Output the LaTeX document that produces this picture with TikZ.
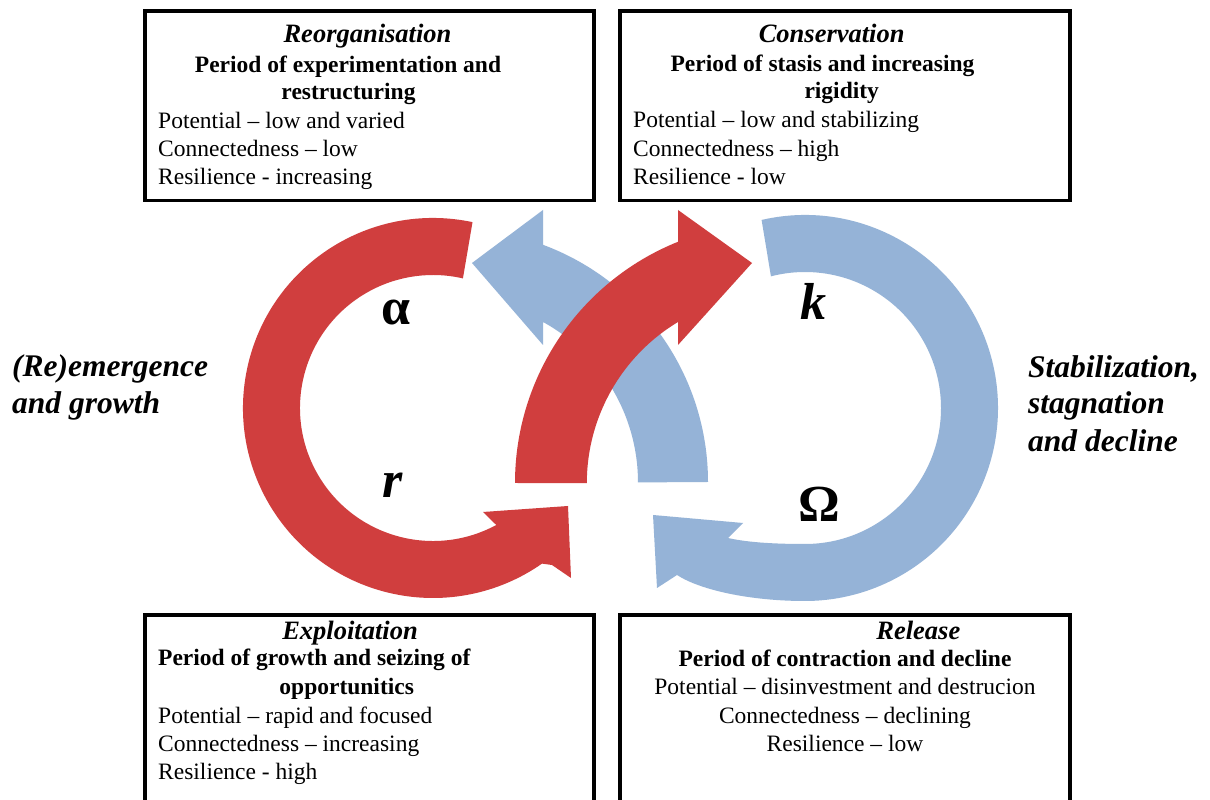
\documentclass[tikz,border=0pt]{standalone}
\usepackage{fontspec}
\setmainfont{Liberation Serif}
\definecolor{ringred}{RGB}{208,62,62}
\definecolor{ringblue}{RGB}{149,179,215}
\begin{document}
\begin{tikzpicture}[x=1pt,y=1pt,
  box/.style={draw=black, line width=3.5pt, inner sep=0pt},
  ttl/.style={inner sep=0pt, anchor=base, font=\fontsize{26.5}{30}\selectfont\bfseries\itshape},
  bld/.style={inner sep=0pt, anchor=base, font=\fontsize{23.5}{28}\selectfont\bfseries},
  txt/.style={inner sep=0pt, anchor=base west, font=\fontsize{23.5}{28}\selectfont},
  ctxt/.style={inner sep=0pt, anchor=base, font=\fontsize{23.5}{28}\selectfont},
  side/.style={inner sep=0pt, anchor=base west, font=\fontsize{31.5}{36}\selectfont\bfseries\itshape},
  greek/.style={inner sep=0pt, anchor=center, font=\fontsize{52}{56}\selectfont\bfseries},
  greekit/.style={inner sep=0pt, anchor=center, font=\fontsize{52}{56}\selectfont\bfseries\itshape},
]
\clip (0,0) rectangle (1210,800);
\fill[white] (0,0) rectangle (1210,800);

% boxes
\node[box, minimum width=449pt, minimum height=189.5pt] (reorgbox) at (369.5,694.25) {};
\node[box, minimum width=450pt, minimum height=189.5pt] (consbox) at (845,694.25) {};
\node[box, minimum width=449pt, minimum height=215pt] (explbox) at (369.5,77.5) {};
\node[box, minimum width=450pt, minimum height=215pt] (relbox) at (845,77.5) {};

% Reorganisation
\node[ttl] (reorgt) at (367.5,757) {Reorganisation};
\node[bld] (reorgb1) at (348,727) {Period of experimentation and};
\node[bld] (reorgb2) at (348.5,700) {restructuring};
\node[txt] (reorg1) at (158,671) {Potential -- low and varied};
\node[txt] (reorg2) at (158,643) {Connectedness -- low};
\node[txt] (reorg3) at (158,615) {Resilience - increasing};

% Conservation
\node[ttl] (const) at (831.7,757) {Conservation};
\node[bld] (consb1) at (822.5,728) {Period of stasis and increasing};
\node[bld] (consb2) at (841.7,701) {rigidity};
\node[txt] (cons1) at (633,672) {Potential -- low and stabilizing};
\node[txt] (cons2) at (633,643) {Connectedness -- high};
\node[txt] (cons3) at (633,615) {Resilience - low};

% Exploitation
\node[ttl] (explt) at (350,160.7) {Exploitation};
\node[bld, anchor=base west] (explb1) at (158,134) {Period of growth and seizing of};
\node[bld] (explb2) at (346.7,105) {opportunitics};
\node[txt] (expl1) at (158,76.7) {Potential -- rapid and focused};
\node[txt] (expl2) at (158,48.3) {Connectedness -- increasing};
\node[txt] (expl3) at (158,20) {Resilience - high};

% Release
\node[ttl] (relt) at (918.3,160.7) {Release};
\node[bld] (relb1) at (845,133.3) {Period of contraction and decline};
\node[ctxt] (rel1) at (845,105) {Potential -- disinvestment and destrucion};
\node[ctxt] (rel2) at (845,76.7) {Connectedness -- declining};
\node[ctxt] (rel3) at (845,48.3) {Resilience -- low};

% side labels
\node[side] (leftl1) at (12,423) {(Re)emergence};
\node[side] (leftl2) at (12,386) {and growth};
\node[side] (rightl1) at (1028,422) {Stabilization,};
\node[side] (rightl2) at (1028,386) {stagnation};
\node[side] (rightl3) at (1028,348) {and decline};

% left ring (red)
\fill[ringred] ([shift={(433,392)}]78:190pt) arc[start angle=78, end angle=305, radius=190pt]
  -- (552,235) -- (571,222) -- (568,294) -- (483,288)
  -- ([shift={(433,392)}]298.4:133pt) arc[start angle=298.4, end angle=77, radius=133pt] -- cycle;

% right ring (blue)
\fill[ringblue] ([shift={(805,392)}]103:193pt) arc[start angle=103, end angle=-90, radius=193pt]
  .. controls (750,199) and (700,210) .. (677,225) -- (657,212) -- (653,285) -- (743,277) -- (728,262)
  .. controls (750,257) and (780,256) .. (805,256) arc[start angle=-90, end angle=104.5, radius=136pt] -- cycle;

% middle blue arc
\fill[ringblue] (708,318) arc[start angle=0, end angle=69.6, radius=253pt]
  -- (543,590) -- (472,537) -- (543,455) -- (543,478)
  arc[start angle=61.25, end angle=0, radius=183pt] -- cycle;

% middle red arc
\fill[ringred] (515,317) arc[start angle=180, end angle=111.9, radius=260pt]
  -- (678,590) -- (752,537) -- (678,455) -- (678,478)
  arc[start angle=121, end angle=180, radius=188pt] -- cycle;

% phase letters
\node[greek] (alpha) at (396.5,487.5) {α};
\node[greekit] (rlbl) at (393,315) {r};
\node[greekit] (klbl) at (813.5,499) {k};
\node[greek] (omega) at (819.5,296) {Ω};
\end{tikzpicture}
\end{document}
